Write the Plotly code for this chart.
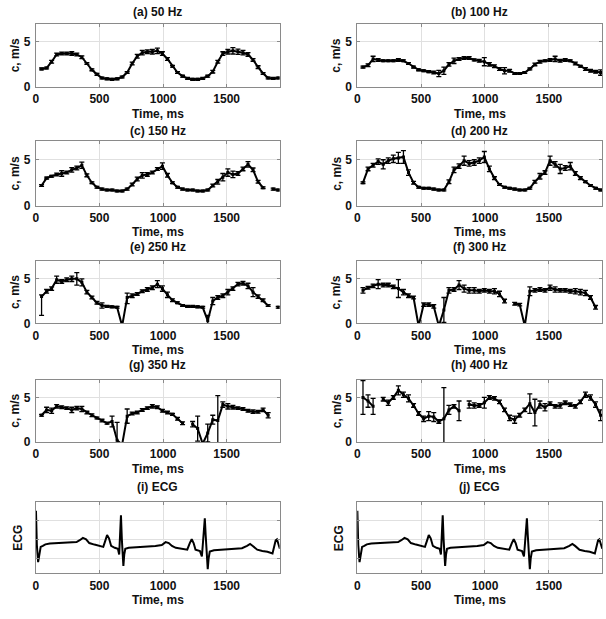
import numpy as np
import plotly.graph_objects as go

nan = None
# sampling instants (ms)
times = list(np.linspace(45, 1905, 48))

# (a) 50 Hz
a_v = [2.0,2.1,2.8,3.6,3.7, 3.7,3.7,3.6,3.3,2.6, 1.9,1.4,1.0,0.9,0.85, 0.9,1.1,1.6,2.6,3.4,
       3.8,3.9,3.9,4.0,3.7, 3.1,2.3,1.6,1.2,0.95, 0.85,0.85,0.95,1.2,1.7, 2.8,3.7,3.9,4.0,3.9,
       3.8,3.6,3.0,2.2,1.5, 1.0,0.95,1.0]
a_e = [0.1,0.1,0.15,0.15,0.15, 0.15,0.2,0.15,0.15,0.1, 0.1,0.1,0.1,0.1,0.1, 0.1,0.1,0.1,0.15,0.2,
       0.25,0.2,0.25,0.3,0.2, 0.15,0.1,0.1,0.1,0.1, 0.1,0.1,0.1,0.1,0.15, 0.15,0.2,0.25,0.35,0.3,
       0.25,0.2,0.15,0.15,0.1, 0.1,0.1,0.1]
# (b) 100 Hz
b_v = [2.2,2.4,3.1,3.0,2.9, 2.9,2.9,3.0,2.9,2.6, 2.2,1.9,1.8,1.7,1.6, 1.5,1.8,2.5,2.9,3.1,
       3.2,3.2,3.0,2.9,2.8, 2.5,2.3,2.0,1.8,1.8, 1.5,1.5,1.6,2.0,2.5, 2.8,2.9,3.0,3.1,2.9,
       3.0,2.9,2.6,2.3,2.0, 1.8,1.7,1.6]
b_e = [0.1,0.15,0.3,0.15,0.1, 0.1,0.1,0.15,0.1,0.1, 0.1,0.1,0.1,0.1,0.15, 0.35,0.4,0.2,0.3,0.15,
       0.15,0.15,0.1,0.15,0.45, 0.2,0.15,0.15,0.35,0.15, 0.1,0.1,0.1,0.1,0.15, 0.15,0.1,0.15,0.3,0.15,
       0.15,0.1,0.15,0.1,0.15, 0.15,0.15,0.3]
# (c) 150 Hz
c_v = [2.2,3.0,3.2,3.4,3.5, 3.6,3.9,4.1,4.4,3.3, 2.5,2.0,1.8,1.7,1.7, 1.6,1.6,1.8,2.3,2.9,
       3.3,3.4,3.6,4.0,4.3, 3.3,2.5,2.0,1.8,1.7, 1.7,1.6,1.6,1.7,2.2, 2.6,3.1,3.6,3.4,3.5,
       4.0,4.5,3.9,2.6,1.95, nan,1.8,1.7]
c_e = [0.1,0.1,0.1,0.15,0.3, 0.15,0.25,0.2,0.35,0.15, 0.1,0.1,0.1,0.1,0.1, 0.1,0.1,0.1,0.15,0.2,
       0.3,0.2,0.15,0.15,0.35, 0.2,0.1,0.1,0.1,0.1, 0.1,0.1,0.1,0.1,0.15, 0.25,0.4,0.4,0.35,0.2,
       0.2,0.3,0.2,0.15,0.1, 0,0.1,0.1]
# (d) 200 Hz
d_v = [2.5,4.0,4.4,4.8,4.5, 4.9,5.1,5.2,5.3,3.6, 2.5,2.0,1.9,1.9,1.8, 1.7,1.7,2.6,3.9,4.3,
       4.9,4.6,4.7,4.9,5.3, 4.0,3.0,2.3,2.0,1.9, 1.8,1.7,1.7,1.9,2.6, 3.2,3.6,4.9,4.5,4.0,
       4.1,4.3,3.5,3.0,2.6, 2.2,1.9,1.7]
d_e = [0.1,0.2,0.2,0.3,0.5, 0.3,0.4,0.6,0.7,0.3, 0.15,0.1,0.1,0.1,0.1, 0.1,0.1,0.2,0.3,0.25,
       0.5,0.3,0.3,0.3,0.6, 0.3,0.15,0.1,0.1,0.1, 0.1,0.1,0.1,0.1,0.15, 0.3,0.2,0.5,0.3,0.5,
       0.25,0.4,0.2,0.15,0.1, 0.1,0.1,0.1]
# (e) 250 Hz
e_v = [3.0,3.6,3.9,4.9,4.7, 4.9,5.0,5.0,4.6,3.5, 2.9,2.3,2.0,1.9,1.85, 1.8,-0.3,2.9,3.1,3.3,
       3.6,3.8,4.0,4.4,3.9, 3.2,2.6,2.3,2.0,1.9, 1.9,1.85,1.8,0.3,2.5, 2.9,3.1,3.5,3.9,4.4,
       4.5,4.2,3.5,3.0,2.6, 2.0,nan,1.8]
e_e = [0.2,0.2,0.2,0.4,0.2, 0.2,0.3,0.7,0.4,0.2, 0.15,0.15,0.3,0.1,0.1, 0.1,0,0.5,0.2,0.15,
       0.15,0.2,0.2,0.4,0.3, 0.3,0.15,0.1,0.1,0.1, 0.1,0.1,0.1,0.6,0.4, 0.2,0.2,0.3,0.2,0.2,
       0.2,0.3,0.5,0.2,0.15, 0.1,0,0.1]
e_em = [2.1,0.2,0.2,0.4,0.2, 0.2,0.3,0.7,0.4,0.2, 0.15,0.15,0.3,0.1,0.1, 0.1,0,0.7,0.2,0.15,
        0.15,0.2,0.2,0.4,0.3, 0.3,0.15,0.1,0.1,0.1, 0.1,0.1,0.1,0.6,0.4, 0.2,0.2,0.3,0.2,0.2,
        0.2,0.3,0.5,0.2,0.15, 0.1,0,0.1]
# (f) 300 Hz
f_v = [3.7,4.0,4.2,4.4,4.3, 4.3,4.1,3.9,3.5,3.1, 2.9,-0.3,2.1,2.1,1.9, -0.3,1.5,3.7,3.8,4.3,
       3.9,3.7,3.7,3.6,3.7, 3.6,3.6,3.3,2.5,nan, 2.2,2.1,-0.3,3.6,3.7, 3.8,3.7,4.0,3.8,3.7,
       3.7,3.6,3.6,3.5,3.4, 2.9,1.8,nan]
f_e = [0.3,0.15,0.2,0.5,0.2, 0.2,0.2,1.0,0.3,0.2, 0.15,0,0.2,0.2,0.2, 0,1.4,0.3,0.2,0.5,
       0.4,0.3,0.3,0.2,0.2, 0.2,0.3,0.3,0.2,0, 0.15,0.15,0,0.5,0.2, 0.2,0.2,0.3,0.3,0.2,
       0.2,0.2,0.3,0.3,0.3, 0.2,0.2,0]
# (g) 350 Hz
g_v = [3.0,3.6,3.5,4.0,3.9, 3.8,3.6,3.8,3.7,3.3, 3.0,2.7,2.4,2.1,2.3, 0.2,-0.3,2.9,3.2,3.3,
       3.6,3.8,4.0,3.9,3.5, 3.3,3.1,2.6,2.1,nan, 2.0,1.5,-0.2,1.0,2.5, 2.4,4.2,4.0,3.9,3.8,
       3.7,3.5,3.4,3.4,3.6, 3.0,nan,nan]
g_e = [0.1,0.3,0.3,0.2,0.15, 0.15,0.3,0.2,0.3,0.15, 0.15,0.1,0.15,0.1,0.6, 2.0,0,0.8,0.15,0.15,
       0.15,0.15,0.2,0.15,0.15, 0.15,0.1,0.15,0.15,0, 0.3,1.4,0,1.0,0.5, 2.8,0.3,0.3,0.2,0.15,
       0.15,0.15,0.2,0.15,0.2, 0.3,0,0]
# (h) 400 Hz
h_v = [5.0,4.6,4.0,nan,4.8, 4.4,5.0,5.8,5.3,4.9, 4.1,3.2,2.6,2.9,2.8, 2.3,2.6,3.6,4.0,3.5,
       nan,4.2,4.1,4.1,4.4, 5.0,4.9,4.5,3.6,2.7, 2.5,3.0,3.6,4.3,3.3, 4.2,3.9,4.3,4.0,4.1,
       4.4,4.2,4.0,4.5,5.3, 5.0,4.2,3.0]
h_e = [1.9,0.7,0.9,0,0.2, 0.3,0.2,0.5,0.3,0.4, 0.2,0.2,0.3,0.5,0.5, 0.2,3.5,0.5,0.2,1.1,
       0,0.4,0.3,0.2,0.6, 0.2,0.2,0.2,0.2,0.3, 0.4,0.2,0.2,1.1,1.5, 0.4,0.4,0.2,0.2,0.3,
       0.2,0.2,0.2,0.2,0.3, 0.3,0.3,0.6]

# ECG trace (read at key instants)
ecg_t = [1, 8, 18, 28, 38, 55, 75, 110, 160, 220, 280, 320, 345, 370, 395, 420, 460, 500, 530,
         545, 560, 575, 592, 620, 645, 655, 662, 669, 676, 682, 688, 695, 703, 730, 800, 870,
         940, 990, 1020, 1045, 1070, 1100, 1150, 1190, 1210, 1225, 1240, 1255, 1290, 1305,
         1312, 1320, 1328, 1335, 1342, 1351, 1358, 1367, 1400, 1450, 1500, 1560, 1620, 1660,
         1684, 1705, 1740, 1780, 1820, 1860, 1870, 1885, 1895, 1908, 1918]
ecg_v = [1.5, -0.3, -1.2, -0.7, -0.4, -0.35, -0.27, -0.22, -0.2, -0.17, -0.16, -0.15, -0.05,
         0.07, 0.0, -0.2, -0.28, -0.35, -0.4, -0.1, 0.22, 0.05, -0.35, -0.45, -0.5, -0.8, 0.2,
         1.26, 0.0, -1.0, -1.4, -0.8, -0.5, -0.45, -0.42, -0.4, -0.35, -0.3, -0.15, -0.2,
         -0.35, -0.45, -0.52, -0.55, -0.2, 0.0, -0.2, -0.55, -0.62, -0.9, -0.3, 0.6, 1.1, 0.2,
         -0.8, -1.57, -1.0, -0.65, -0.58, -0.55, -0.52, -0.5, -0.47, -0.35, -0.25, -0.35,
         -0.55, -0.62, -0.66, -0.75, -0.5, -0.05, 0.0, -0.3, -0.5]

panels = [
    ("(a) 50 Hz", a_v, a_e, None),
    ("(b) 100 Hz", b_v, b_e, None),
    ("(c) 150 Hz", c_v, c_e, None),
    ("(d) 200 Hz", d_v, d_e, None),
    ("(e) 250 Hz", e_v, e_e, e_em),
    ("(f) 300 Hz", f_v, f_e, None),
    ("(g) 350 Hz", g_v, g_e, None),
    ("(h) 400 Hz", h_v, h_e, None),
]

W, H = 606, 619
rows = [(24, 88), (143, 208), (264, 327), (384, 447), (508, 580)]
cols = [(33, 278), (356, 602)]
title_gap = [12, 11, 14, 15, 15]

FONT = "Liberation Sans, Arial, sans-serif"
BOX = "#8a8a8a"
GRID = "#e0e0e0"

fig = go.Figure()
layout = {}
annotations = []

def xd(px):
    return px / W

def yd(py):
    return 1 - py / H

for k in range(10):
    r, c = divmod(k, 2)
    n = k + 1
    xa = "x" if n == 1 else f"x{n}"
    ya = "y" if n == 1 else f"y{n}"
    (top, bot), (lft, rgt) = rows[r], cols[c]
    ax_common = dict(showline=True, linecolor=BOX, linewidth=1, mirror="allticks",
                     ticks="inside", ticklen=3, tickcolor=BOX, showgrid=True,
                     gridcolor=GRID, gridwidth=1, zeroline=False,
                     tickfont=dict(family=FONT, size=12, color="#111", weight="bold"))
    layout["xaxis" if n == 1 else f"xaxis{n}"] = dict(
        domain=[xd(lft), xd(rgt)], anchor=ya, range=[0, 1916],
        tickvals=[0, 500, 1000, 1500], ticklabelstandoff=1, **ax_common)
    if r < 4:
        title, vals, errs, errm = panels[k]
        layout["yaxis" if n == 1 else f"yaxis{n}"] = dict(
            domain=[yd(bot), yd(top)], anchor=xa, range=[0, 7],
            tickvals=[0, 5], ticklabelstandoff=2, **ax_common)
        err = dict(type="data", array=errs, visible=True, color="black",
                   thickness=1.3, width=2.5)
        if errm is not None:
            err["symmetric"] = False
            err["arrayminus"] = errm
        fig.add_trace(go.Scatter(
            x=times, y=vals, xaxis=xa, yaxis=ya, mode="lines+markers",
            line=dict(color="black", width=2),
            marker=dict(symbol="square", size=3, color="black"),
            error_y=err, showlegend=False, connectgaps=False))
        ylabel = "c, m/s"
        lab_dx = 21
    else:
        title = "(i) ECG" if c == 0 else "(j) ECG"
        layout["yaxis" if n == 1 else f"yaxis{n}"] = dict(
            domain=[yd(bot), yd(top)], anchor=xa, range=[-1.8, 1.95],
            tickvals=[-1, 0, 1], showticklabels=False, **ax_common)
        fig.add_trace(go.Scatter(
            x=ecg_t, y=ecg_v, xaxis=xa, yaxis=ya, mode="lines",
            line=dict(color="black", width=2), showlegend=False))
        ylabel = "ECG"
        lab_dx = 18
    cx = (lft + rgt) / 2
    annotations.append(dict(text=f"<b>{title}</b>", x=xd(cx), y=yd(top - title_gap[r]),
                            xref="paper", yref="paper", showarrow=False,
                            xanchor="center", yanchor="middle",
                            font=dict(family=FONT, size=12, color="#111")))
    annotations.append(dict(text="<b>Time, ms</b>", x=xd(cx), y=yd(bot + 27),
                            xref="paper", yref="paper", showarrow=False,
                            xanchor="center", yanchor="middle",
                            font=dict(family=FONT, size=12, color="#111")))
    annotations.append(dict(text=f"<b>{ylabel}</b>", x=xd(lft - lab_dx), y=yd((top + bot) / 2),
                            xref="paper", yref="paper", showarrow=False, textangle=-90,
                            xanchor="center", yanchor="middle",
                            font=dict(family=FONT, size=12, color="#111")))

fig.update_layout(width=W, height=H, margin=dict(l=0, r=0, t=0, b=0),
                  paper_bgcolor="white", plot_bgcolor="white",
                  annotations=annotations, **layout)
# remove the browser's default page margin so the figure sits at the window's corner
fig.write_html("out.html", config={"displayModeBar": False},
               post_script="document.body.style.margin='0px';document.body.style.overflow='hidden';")
